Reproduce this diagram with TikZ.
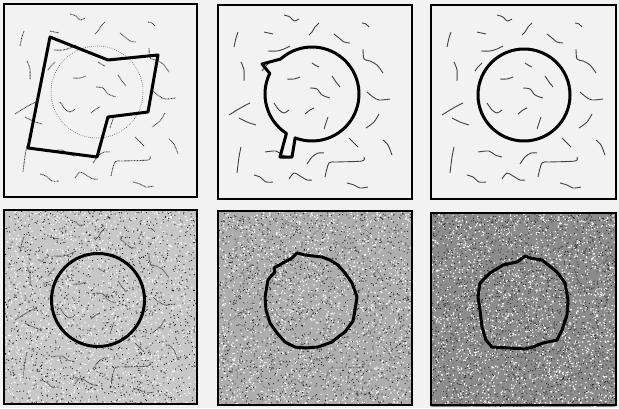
\documentclass[tikz,border=0pt]{standalone}

% Trazos del fondo (relativos a la esquina del marco)
\newcommand{\trazos}{%
  \draw[trazo] plot[smooth] coordinates {(66,10) (72,12) (76,16) (81,14)};
  \draw[trazo] plot[smooth] coordinates {(91,30) (94,27) (97,22) (101,18)};
  \draw[trazo] plot[smooth] coordinates {(144,18) (148,19) (151,22)};
  \draw[trazo] plot[smooth] coordinates {(20,27) (18,33) (16,42)};
  \draw[trazo] plot[smooth] coordinates {(46,27) (55,29)};
  \draw[trazo] plot[smooth] coordinates {(116,29) (121,33) (126,37) (132,38)};
  \draw[trazo] plot[smooth] coordinates {(50,46) (59,46) (66,44) (72,41)};
  \draw[trazo] plot[smooth] coordinates {(145,44) (146,54) (152,56) (159,60) (165,68)};
  \draw[trazo] plot[smooth] coordinates {(23,57) (26,65) (26,76)};
  \draw[trazo] plot[smooth] coordinates {(44,66) (47,62) (51,58)};
  \draw[trazo] plot[smooth] coordinates {(94,58) (97,60) (101,62)};
  \draw[trazo] plot[smooth] coordinates {(69,74) (76,74) (82,72)};
  \draw[trazo] plot[smooth] coordinates {(114,71) (118,77) (122,82)};
  \draw[trazo] plot[smooth] coordinates {(92,83) (99,84) (104,90) (112,93)};
  \draw[trazo] plot[smooth] coordinates {(149,87) (155,92) (161,95) (172,94)};
  \draw[trazo] plot[smooth] coordinates {(11,110) (19,105) (26,101) (32,98)};
  \draw[trazo] plot[smooth] coordinates {(21,113) (29,117) (38,120)};
  \draw[trazo] plot[smooth] coordinates {(56,98) (61,105) (66,108) (71,105)};
  \draw[trazo] plot[smooth] coordinates {(87,109) (92,105) (96,103)};
  \draw[trazo] plot[smooth] coordinates {(110,112) (108,118) (106,124)};
  \draw[trazo] plot[smooth] coordinates {(161,109) (156,117) (148,123)};
  \draw[trazo] plot[smooth] coordinates {(131,133) (135,137) (140,142)};
  \draw[trazo] plot[smooth] coordinates {(165,135) (170,140) (174,150)};
  \draw[trazo] plot[smooth] coordinates {(23,142) (21,152) (19,168)};
  \draw[trazo] plot[smooth] coordinates {(47,147) (58,146) (64,150) (71,152)};
  \draw[trazo] plot[smooth] coordinates {(89,159) (94,152) (100,148) (106,148)};
  \draw[trazo] plot[smooth] coordinates {(107,172) (111,158) (119,157) (144,156) (146,152)};
  \draw[trazo] plot[smooth] coordinates {(36,170) (42,172) (48,177) (55,177)};
  \draw[trazo] plot[smooth] coordinates {(71,174) (76,168) (82,171) (89,175) (94,175)};
  \draw[trazo] plot[smooth] coordinates {(129,178) (136,180) (142,183) (150,182)};
}

% Ruido: gris de fondo y motas al azar (en tandas de 150)
\newcommand{\ruido}[3]{%
  \fill[#1] (0,0) rectangle (#2,194);
  \foreach \j in {1,...,#3} {
    \fill[white]
      \foreach \i in {1,...,150} {({rnd*(#2-1.2)},{rnd*192.8}) rectangle ++(1.2,1.2)};
    \fill[black!80]
      \foreach \i in {1,...,150} {({rnd*(#2-1)},{rnd*193}) rectangle ++(1,1)};
  }
}

\begin{document}
\begin{tikzpicture}[
  x=0.5mm, y=-0.5mm,
  marco/.style={line width=1mm},
  contorno/.style={line width=1.5mm, line join=round},
  trazo/.style={line width=0.45mm, black!75}
]

  \pgfmathsetseed{7}

  % Fondo
  \fill[black!5] (0,0) rectangle (619,408);
  \useasboundingbox (0,0) rectangle (619,408);

  % Panel 1: contorno inicial
  \begin{scope}[shift={(4,4)}]
    \begin{scope}[trazo/.append style={dash pattern=on 1.2pt off 0.9pt}]
      \trazos
    \end{scope}
    \draw[dotted, line width=0.3mm, black!70]
      (93,88) circle[radius=46];
    \draw[contorno]
      (46,33) -- (104,56) -- (154,51) -- (144,108)
      -- (104,113) -- (93,153) -- (24,144) -- cycle;
    \draw[marco] (0,0) rectangle (193,193);
  \end{scope}

  % Panel 2
  \begin{scope}[shift={(218,5)}]
    \trazos
    \draw[contorno]
      (94,89) ++(228:47)
      arc[start angle=228, end angle=471, radius=47]
      -- (74,152) -- (62,152) -- (68.4,128.4)
      arc[start angle=123, end angle=206, radius=47]
      -- (44,59) -- cycle;
    \draw[marco] (0,0) rectangle (194,194);
  \end{scope}

  % Panel 3
  \begin{scope}[shift={(431,5)}]
    \trazos
    \draw[contorno] (93,90) circle[radius=46];
    \draw[marco] (0,0) rectangle (185,194);
  \end{scope}

  % Panel 4: poco ruido
  \begin{scope}[shift={(4,210)}]
    \ruido{black!22}{193}{10}
    \begin{scope}[trazo/.append style={black!70, dash pattern=on 1.2pt off 0.9pt}]
      \trazos
    \end{scope}
    \draw[contorno] (94,90) circle[radius=46.5];
    \draw[marco] (0,0) rectangle (193,194);
  \end{scope}

  % Panel 5: ruido medio
  \begin{scope}[shift={(218,211)}]
    \ruido{black!32}{194}{12}
    \begin{scope}[trazo/.append style={black!55, dash pattern=on 1pt off 1.2pt}]
      \trazos
    \end{scope}
    \draw[contorno]
      (79,42) -- (87,44) -- (104,46) -- (112,49) -- (120,54)
      -- (127,62) -- (134,72) -- (139,86) -- (137,99) -- (135,110)
      -- (132,114) -- (127,121) -- (120,126) -- (114,131)
      -- (100,136) -- (87,137) -- (77,136) -- (67,131) -- (59,122)
      -- (52,112) -- (48,99) -- (47,86) -- (50,69) -- (54,64)
      -- (57,61) -- (56,57) -- (65,52) -- (74,47) -- cycle;
    \draw[marco] (0,0) rectangle (194,194);
  \end{scope}

  % Panel 6: mucho ruido
  \begin{scope}[shift={(431,213)}]
    \ruido{black!45}{185}{14}
    \begin{scope}[trazo/.append style={black!50, dash pattern=on 1pt off 1.5pt}]
      \trazos
    \end{scope}
    \draw[contorno]
      (89,47) -- (94,43) -- (99,45) -- (111,47) -- (126,59)
      -- (134,70) -- (137,87) -- (136,102) -- (131,117) -- (126,127)
      -- (112,130) -- (102,134) -- (94,136) -- (79,135) -- (61,134)
      -- (55,127) -- (51,114) -- (49,97) -- (47,84) -- (49,70)
      -- (59,60) -- (72,52) -- (86,49) -- cycle;
    \draw[marco] (0,0) rectangle (185,192);
  \end{scope}

\end{tikzpicture}
\end{document}
